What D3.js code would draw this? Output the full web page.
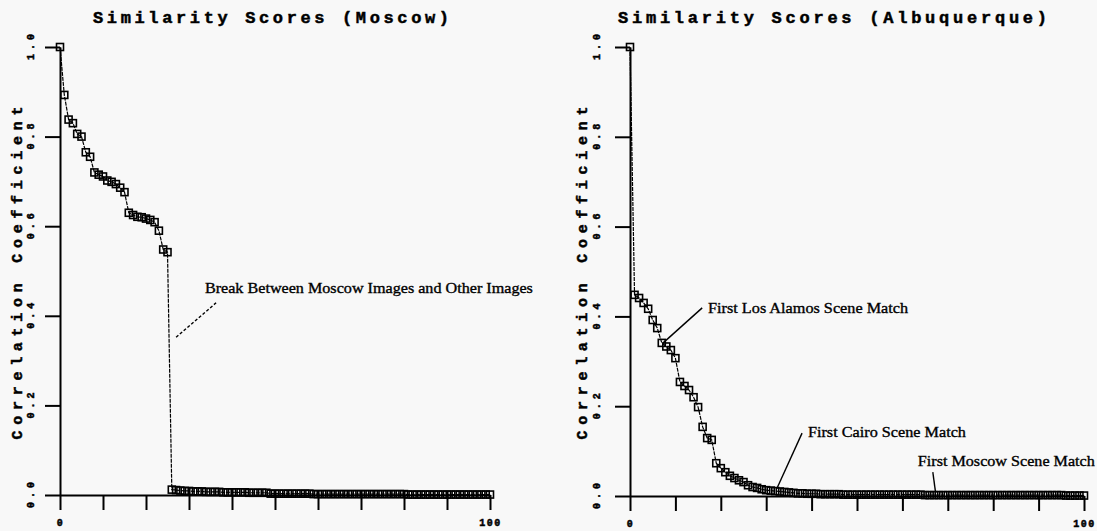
<!DOCTYPE html>
<html>
<head>
<meta charset="utf-8">
<script src="https://cdn.jsdelivr.net/npm/d3@7"></script>
<style>
  body { margin: 0; background: #f8f8f8; }
  svg { display: block; }
  .mono { font-family: "Liberation Mono", "DejaVu Sans Mono", monospace; font-weight: bold; stroke: #000; stroke-width: 0.5px; }
  .note { font-family: "Liberation Serif", "DejaVu Serif", serif; font-size: 15px; stroke: #000; stroke-width: 0.35px; }
</style>
</head>
<body>
<div id="chart"></div>
<script>
// chart values
const titles = ["Similarity Scores (Moscow)", "Similarity Scores (Albuquerque)"];
const yAxisTitle = "Correlation Coefficient";
const xTicks = [0, 10, 20, 30, 40, 50, 60, 70, 80, 90, 100];
const xTickLabels = [0, 100];
const yTicks = [0, 0.2, 0.4, 0.6, 0.8, 1.0];

// rank (0..100) -> correlation score
const moscowScores = [
  1.0, 0.893, 0.838, 0.830, 0.806, 0.800, 0.765, 0.755, 0.720, 0.715,
  0.711, 0.702, 0.699, 0.694, 0.686, 0.676, 0.630, 0.625, 0.621, 0.620,
  0.617, 0.614, 0.609, 0.590, 0.548, 0.542, 0.012, 0.011, 0.010, 0.009,
  0.009, 0.008, 0.008, 0.008, 0.007, 0.007, 0.007, 0.007, 0.006, 0.006,
  0.006, 0.006, 0.006, 0.006, 0.005, 0.005, 0.005, 0.005, 0.005, 0.003,
  0.003, 0.003, 0.003, 0.003, 0.003, 0.003, 0.003, 0.003, 0.003, 0.002,
  0.002, 0.002, 0.002, 0.002, 0.002, 0.002, 0.002, 0.002, 0.002, 0.002,
  0.002, 0.002, 0.002, 0.002, 0.002, 0.002, 0.002, 0.002, 0.002, 0.002,
  0.002, 0.001, 0.001, 0.001, 0.001, 0.001, 0.001, 0.001, 0.001, 0.001,
  0.001, 0.001, 0.001, 0.001, 0.001, 0.001, 0.001, 0.001, 0.001, 0.001,
  0.001
];
const albuquerqueScores = [
  1.0, 0.448, 0.441, 0.430, 0.417, 0.392, 0.374, 0.341, 0.333, 0.325,
  0.307, 0.254, 0.245, 0.236, 0.220, 0.198, 0.154, 0.129, 0.125, 0.073,
  0.062, 0.053, 0.045, 0.040, 0.035, 0.031, 0.024, 0.020, 0.018, 0.015,
  0.013, 0.012, 0.011, 0.010, 0.009, 0.008, 0.007, 0.006, 0.006, 0.005,
  0.005, 0.005, 0.004, 0.004, 0.004, 0.004, 0.004, 0.003, 0.003, 0.003,
  0.003, 0.003, 0.003, 0.003, 0.003, 0.003, 0.003, 0.003, 0.003, 0.003,
  0.003, 0.003, 0.003, 0.003, 0.003, 0.002, 0.002, 0.002, 0.002, 0.002,
  0.002, 0.002, 0.002, 0.002, 0.002, 0.002, 0.002, 0.002, 0.002, 0.002,
  0.002, 0.002, 0.002, 0.002, 0.002, 0.002, 0.002, 0.002, 0.002, 0.002,
  0.002, 0.002, 0.002, 0.002, 0.002, 0.002, 0.001, 0.001, 0.001, 0.001,
  0.001
];

// annotations: arrow tip, leader end and label anchor, in data units
const moscowNotes = [
  { label: "Break Between Moscow Images and Other Images", tip: [27, 0.352], end: [36.3, 0.429], at: [33.7, 0.451], len: 328, dash: "3,2" }
];
const albuquerqueNotes = [
  { label: "First Los Alamos Scene Match", tip: [7.3, 0.341], end: [15.9, 0.419], at: [17.2, 0.408], len: 200 },
  { label: "First Cairo Scene Match", tip: [32.4, 0.018], end: [37.9, 0.140], at: [39.2, 0.131], len: 158 },
  { label: "First Moscow Scene Match", tip: [67.3, 0.008], end: [66.7, 0.053], at: [63.4, 0.067], len: 177 }
];

const W = 1097, H = 531;
const svg = d3.select("#chart").append("svg")
  .attr("width", W)
  .attr("height", H);

svg.append("rect").attr("width", W).attr("height", H).attr("fill", "#f8f8f8");

const panels = [
  { title: titles[0], values: moscowScores, notes: moscowNotes,
    x0: 60, x1: 490, yb: 495, yt: 47, titleX: 93, titleLen: 356, yTitleX: 18, yLabelX: 31 },
  { title: titles[1], values: albuquerqueScores, notes: albuquerqueNotes,
    x0: 630, x1: 1084, yb: 496, yt: 47, titleX: 618, titleLen: 429, yTitleX: 583, yLabelX: 597 }
];

panels.forEach(p => {
  const x = d3.scaleLinear().domain([0, 100]).range([p.x0, p.x1]);
  const y = d3.scaleLinear().domain([0, 1]).range([p.yb, p.yt]);
  const g = svg.append("g");

  // title
  g.append("text")
    .attr("class", "mono")
    .attr("x", p.titleX)
    .attr("y", 23)
    .attr("font-size", 17)
    .attr("textLength", p.titleLen)
    .attr("lengthAdjust", "spacing")
    .text(p.title);

  // axes
  const xAxis = g.append("g")
    .attr("transform", `translate(0,${p.yb})`)
    .call(d3.axisBottom(x).tickValues(xTicks).tickSize(15).tickSizeOuter(0)
      .tickPadding(9)
      .tickFormat(d => xTickLabels.includes(d) ? d : ""));
  xAxis.selectAll("text")
    .attr("class", "mono")
    .attr("font-size", 10)
    .attr("fill", "#000")
    .attr("letter-spacing", 1.5);

  const yAxis = g.append("g")
    .attr("transform", `translate(${p.x0},0)`)
    .call(d3.axisLeft(y).tickValues(yTicks).tickSize(15).tickSizeOuter(0).tickFormat(""));

  [xAxis, yAxis].forEach(a => {
    a.select(".domain").attr("stroke", "#000").attr("stroke-width", 2);
    a.selectAll(".tick line").attr("stroke", "#000").attr("stroke-width", 2);
  });

  // rotated y tick labels
  g.selectAll(".ylab")
    .data(yTicks)
    .join("text")
    .attr("class", "mono ylab")
    .attr("font-size", 10)
    .attr("text-anchor", "middle")
    .attr("dominant-baseline", "central")
    .attr("textLength", 26)
    .attr("lengthAdjust", "spacing")
    .attr("transform", d => `translate(${p.yLabelX},${y(d)}) rotate(-90)`)
    .text(d3.format(".1f"));

  g.append("text")
    .attr("class", "mono")
    .attr("font-size", 15)
    .attr("text-anchor", "middle")
    .attr("dominant-baseline", "central")
    .attr("textLength", 333)
    .attr("lengthAdjust", "spacing")
    .attr("transform", `translate(${p.yTitleX},273) rotate(-90)`)
    .text(yAxisTitle);

  // series line + square markers
  const pts = p.values.map((v, i) => [i, v]);
  const line = d3.line().x(d => x(d[0])).y(d => y(d[1]));

  g.append("path")
    .datum(pts)
    .attr("d", line)
    .attr("fill", "none")
    .attr("stroke", "#000")
    .attr("stroke-width", 1.2)
    .attr("stroke-dasharray", "4,1");

  const s = 7;
  g.selectAll(".pt")
    .data(pts)
    .join("rect")
    .attr("class", "pt")
    .attr("x", d => x(d[0]) - s / 2)
    .attr("y", d => y(d[1]) - s / 2)
    .attr("width", s)
    .attr("height", s)
    .attr("fill", "none")
    .attr("stroke", "#000")
    .attr("stroke-width", 1.6);

  // annotations
  p.notes.forEach(n => {
    g.append("line")
      .attr("x1", x(n.tip[0])).attr("y1", y(n.tip[1]))
      .attr("x2", x(n.end[0])).attr("y2", y(n.end[1]))
      .attr("stroke", "#000")
      .attr("stroke-width", 1.4)
      .attr("stroke-dasharray", n.dash || null);
    g.append("text")
      .attr("class", "note")
      .attr("x", x(n.at[0]))
      .attr("y", y(n.at[1]))
      .attr("textLength", n.len)
      .attr("lengthAdjust", "spacingAndGlyphs")
      .text(n.label);
  });
});
</script>
</body>
</html>
